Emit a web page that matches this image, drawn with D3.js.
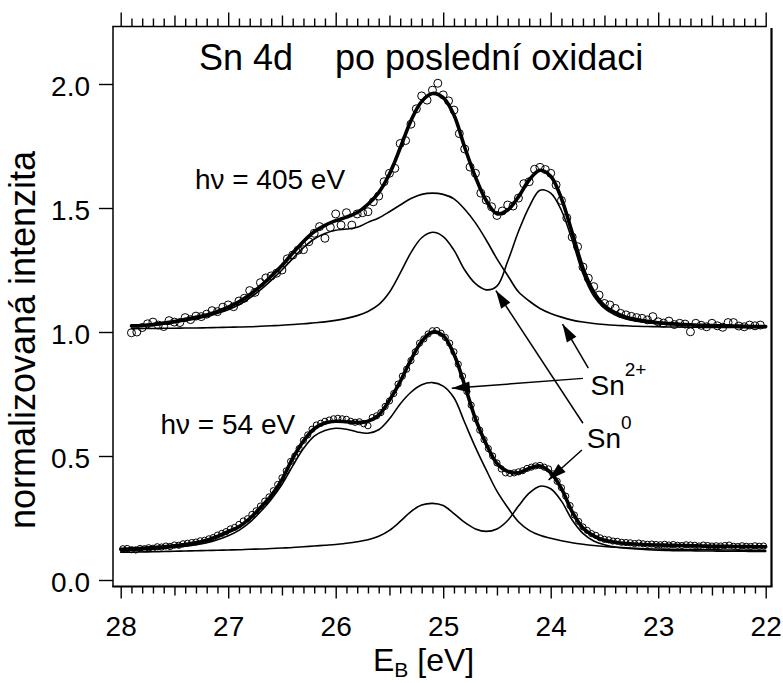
<!DOCTYPE html>
<html>
<head>
<meta charset="utf-8">
<script src="https://cdn.jsdelivr.net/npm/d3@7"></script>
<style>
  body { margin: 0; background: #fff; }
  svg { display: block; font-family: "Liberation Sans", Arial, sans-serif; }
</style>
</head>
<body>
<svg id="chart" width="783" height="683"></svg>
<script>
// Sn 4d photoemission after the last oxidation, two photon energies.
// Binding energy grid (eV) shared by the fitted curves.
const fitEnergy = [
  28.0, 27.9, 27.8, 27.7, 27.6, 27.5, 27.4, 27.3, 27.2, 27.1,
  27.0, 26.9, 26.8, 26.7, 26.6, 26.5, 26.4, 26.3, 26.2, 26.1,
  26.0, 25.9, 25.8, 25.7, 25.6, 25.5, 25.4, 25.3, 25.2, 25.1,
  25.0, 24.9, 24.8, 24.7, 24.6, 24.5, 24.4, 24.3, 24.2, 24.1,
  24.0, 23.9, 23.8, 23.7, 23.6, 23.5, 23.4, 23.3, 23.2, 23.1,
  23.0, 22.9, 22.8, 22.7, 22.6, 22.5, 22.4, 22.3, 22.2, 22.1, 22.0
];

// hv = 405 eV: total fit, Sn2+ and Sn0 components (offset spectrum)
const upperFit = [
  null,
  1.025, 1.026, 1.030, 1.036, 1.042, 1.051, 1.059, 1.069, 1.083, 1.100,
  1.122, 1.150, 1.185, 1.225, 1.268, 1.318, 1.365, 1.404, 1.430, 1.449,
  1.463, 1.482, 1.515, 1.562, 1.637, 1.742, 1.852, 1.930, 1.962, 1.945,
  1.875, 1.745, 1.625, 1.530, 1.477, 1.492, 1.545, 1.613, 1.652, 1.628,
  1.538, 1.400, 1.258, 1.162, 1.106, 1.078, 1.060, 1.050, 1.043, 1.037,
  1.034, 1.031, 1.029, 1.027, 1.026, 1.025, 1.024, 1.023, 1.022, 1.022
];
const upperSn2 = [
  null,
  1.020, 1.022, 1.026, 1.031, 1.037, 1.045, 1.053, 1.062, 1.075, 1.090,
  1.110, 1.137, 1.170, 1.208, 1.250, 1.296, 1.340, 1.375, 1.397, 1.410,
  1.415, 1.422, 1.442, 1.460, 1.485, 1.512, 1.538, 1.555, 1.560, 1.555,
  1.537, 1.495, 1.440, 1.371, 1.295, 1.228, 1.162, 1.125, 1.095, 1.075,
  1.060, 1.048, 1.040, 1.034, 1.030, 1.027, 1.025, 1.023, 1.022, 1.021,
  1.020, 1.020, 1.019, 1.019, 1.018, 1.018, 1.018, 1.017, 1.017, 1.017
];
const upperSn0 = [
  null,
  1.013, 1.014, 1.014, 1.015, 1.015, 1.016, 1.016, 1.017, 1.018, 1.019,
  1.020, 1.021, 1.023, 1.025, 1.027, 1.030, 1.033, 1.037, 1.041, 1.047,
  1.055, 1.066, 1.083, 1.110, 1.160, 1.237, 1.320, 1.380, 1.402, 1.385,
  1.330, 1.250, 1.195, 1.170, 1.185, 1.285, 1.405, 1.505, 1.572, 1.560,
  1.490, 1.370, 1.235, 1.145, 1.095, 1.068, 1.052, 1.043, 1.037, 1.033,
  1.030, 1.028, 1.026, 1.025, 1.024, 1.023, 1.022, 1.021, 1.021, 1.020
];

// hv = 54 eV: total fit, Sn2+ and Sn0 components
const lowerFit = [
  0.124, 0.126, 0.128, 0.131, 0.134, 0.138, 0.143, 0.150, 0.160, 0.176,
  0.195, 0.215, 0.248, 0.292, 0.340, 0.405, 0.490, 0.560, 0.610, 0.633,
  0.640, 0.638, 0.635, 0.640, 0.665, 0.725, 0.800, 0.888, 0.962, 1.000,
  0.985, 0.910, 0.785, 0.650, 0.548, 0.470, 0.438, 0.432, 0.450, 0.460,
  0.433, 0.368, 0.275, 0.210, 0.178, 0.160, 0.152, 0.147, 0.144, 0.142,
  0.141, 0.140, 0.139, 0.138, 0.137, 0.136, 0.136, 0.135, 0.135, 0.134, 0.134
];
const lowerSn2 = [
  0.117, 0.119, 0.121, 0.124, 0.127, 0.131, 0.136, 0.142, 0.150, 0.162,
  0.178, 0.200, 0.232, 0.275, 0.325, 0.385, 0.460, 0.530, 0.580, 0.603,
  0.612, 0.608, 0.597, 0.592, 0.606, 0.650, 0.710, 0.757, 0.787, 0.796,
  0.782, 0.735, 0.635, 0.535, 0.444, 0.358, 0.292, 0.235, 0.200, 0.180,
  0.168, 0.158, 0.150, 0.144, 0.139, 0.135, 0.132, 0.130, 0.128, 0.126,
  0.125, 0.124, 0.123, 0.123, 0.122, 0.122, 0.121, 0.121, 0.120, 0.120, 0.120
];
const lowerSn0 = [
  0.112, 0.112, 0.113, 0.114, 0.115, 0.116, 0.117, 0.118, 0.119, 0.120,
  0.121, 0.122, 0.124, 0.125, 0.127, 0.129, 0.131, 0.134, 0.137, 0.140,
  0.143, 0.148, 0.154, 0.162, 0.176, 0.200, 0.236, 0.276, 0.302, 0.309,
  0.300, 0.268, 0.232, 0.206, 0.196, 0.206, 0.240, 0.298, 0.350, 0.378,
  0.368, 0.318, 0.242, 0.188, 0.157, 0.142, 0.133, 0.128, 0.125, 0.122,
  0.120, 0.119, 0.118, 0.118, 0.117, 0.117, 0.116, 0.116, 0.116, 0.115, 0.115
];

// Measured points [binding energy, normalised intensity]
const upperPoints = [
  [27.90,0.997],[27.85,1.000],[27.80,1.018],[27.75,1.033],[27.70,1.040],[27.65,1.028],[27.60,1.022],[27.55,1.046],[27.50,1.040],[27.45,1.038],
  [27.40,1.058],[27.35,1.050],[27.30,1.064],[27.25,1.062],[27.20,1.072],[27.15,1.086],[27.10,1.082],[27.05,1.100],[27.00,1.109],[26.95,1.102],
  [26.90,1.125],[26.85,1.136],[26.80,1.167],[26.75,1.160],[26.70,1.199],[26.65,1.218],[26.60,1.226],[26.55,1.237],[26.50,1.250],[26.45,1.295],
  [26.40,1.310],[26.35,1.330],[26.30,1.332],[26.25,1.364],[26.20,1.398],[26.15,1.425],[26.10,1.378],[26.05,1.422],[26.00,1.476],[25.95,1.431],
  [25.90,1.481],[25.85,1.431],[25.80,1.476],[25.75,1.481],[25.70,1.485],[25.65,1.525],[25.60,1.548],[25.55,1.606],[25.50,1.640],[25.45,1.660],
  [25.40,1.760],[25.35,1.772],[25.30,1.838],[25.25,1.900],[25.20,1.952],[25.15,1.935],[25.10,1.975],[25.05,2.003],[25.00,1.956],[24.95,1.932],
  [24.90,1.895],[24.85,1.800],[24.80,1.738],[24.75,1.665],[24.70,1.640],[24.65,1.560],[24.60,1.532],[24.55,1.505],[24.50,1.470],[24.45,1.488],
  [24.40,1.512],[24.35,1.508],[24.30,1.540],[24.25,1.598],[24.20,1.606],[24.15,1.656],[24.10,1.664],[24.05,1.655],[24.00,1.640],[23.95,1.593],
  [23.90,1.530],[23.85,1.460],[23.80,1.383],[23.75,1.344],[23.70,1.262],[23.65,1.217],[23.60,1.183],[23.55,1.149],[23.50,1.115],[23.45,1.109],
  [23.40,1.095],[23.35,1.075],[23.30,1.069],[23.25,1.063],[23.20,1.058],[23.15,1.055],[23.10,1.049],[23.05,1.062],[23.00,1.041],[22.95,1.036],
  [22.90,1.044],[22.85,1.030],[22.80,1.035],[22.75,1.032],[22.70,1.001],[22.65,1.035],[22.60,1.027],[22.55,1.021],[22.50,1.035],[22.45,1.025],
  [22.40,1.019],[22.35,1.038],[22.30,1.038],[22.25,1.024],[22.20,1.021],[22.15,1.028],[22.10,1.025],[22.05,1.028]
];
const lowerPoints = [
  [27.98,0.126],[27.94,0.127],[27.90,0.122],[27.86,0.121],[27.82,0.127],[27.78,0.126],[27.74,0.130],[27.70,0.128],[27.66,0.134],[27.62,0.133],
  [27.58,0.137],[27.54,0.135],[27.50,0.141],[27.46,0.140],[27.42,0.146],[27.38,0.148],[27.34,0.151],[27.30,0.153],[27.26,0.158],[27.22,0.160],
  [27.18,0.166],[27.14,0.171],[27.10,0.181],[27.06,0.188],[27.02,0.195],[26.98,0.206],[26.94,0.212],[26.90,0.224],[26.86,0.238],[26.82,0.247],
  [26.78,0.264],[26.74,0.279],[26.70,0.298],[26.66,0.318],[26.62,0.335],[26.58,0.360],[26.54,0.385],[26.50,0.412],[26.46,0.440],[26.42,0.478],
  [26.38,0.500],[26.34,0.530],[26.30,0.563],[26.26,0.585],[26.22,0.608],[26.18,0.625],[26.14,0.632],[26.10,0.640],[26.06,0.645],[26.02,0.650],
  [25.98,0.652],[25.94,0.650],[25.90,0.648],[25.86,0.640],[25.82,0.636],[25.78,0.638],[25.74,0.630],[25.70,0.622],[25.66,0.655],[25.62,0.662],
  [25.58,0.675],[25.54,0.700],[25.50,0.722],[25.46,0.752],[25.42,0.790],[25.38,0.822],[25.34,0.850],[25.30,0.885],[25.26,0.920],[25.22,0.955],
  [25.18,0.972],[25.14,0.992],[25.10,1.005],[25.06,1.006],[25.02,0.995],[24.98,0.978],[24.94,0.955],[24.90,0.920],[24.86,0.870],[24.82,0.822],
  [24.78,0.760],[24.74,0.705],[24.70,0.650],[24.66,0.604],[24.62,0.566],[24.58,0.530],[24.54,0.500],[24.50,0.472],[24.46,0.448],[24.42,0.432],
  [24.38,0.430],[24.34,0.432],[24.30,0.436],[24.26,0.441],[24.22,0.450],[24.18,0.455],[24.14,0.460],[24.10,0.462],[24.06,0.455],[24.02,0.448],
  [23.98,0.428],[23.94,0.398],[23.90,0.372],[23.86,0.338],[23.82,0.300],[23.78,0.262],[23.74,0.236],[23.70,0.214],[23.66,0.200],[23.62,0.187],
  [23.58,0.180],[23.54,0.170],[23.50,0.164],[23.46,0.162],[23.42,0.157],[23.38,0.156],[23.34,0.152],[23.30,0.151],[23.26,0.150],[23.22,0.147],
  [23.18,0.149],[23.14,0.146],[23.10,0.144],[23.06,0.145],[23.02,0.143],[22.98,0.142],[22.94,0.144],[22.90,0.141],[22.86,0.143],[22.82,0.140],
  [22.78,0.139],[22.74,0.142],[22.70,0.141],[22.66,0.140],[22.62,0.137],[22.58,0.141],[22.54,0.139],[22.50,0.137],[22.46,0.138],[22.42,0.137],
  [22.38,0.139],[22.34,0.141],[22.30,0.136],[22.26,0.135],[22.22,0.138],[22.18,0.136],[22.14,0.135],[22.10,0.138],[22.06,0.136],[22.02,0.137]
];

// Axis ticks
const xMajorTicks = [28, 27, 26, 25, 24, 23, 22];
const xTickLabels = ["28", "27", "26", "25", "24", "23", "22"];
const yMajorTicks = [0, 0.5, 1.0, 1.5, 2.0];
const yTickLabels = ["0.0", "0.5", "1.0", "1.5", "2.0"];

// Annotation arrows: [tail E, tail I, tip E, tip I]
const arrows = [
  [23.65, 0.854, 23.89, 1.032],
  [23.70, 0.813, 24.92, 0.773],
  [23.70, 0.632, 24.51, 1.167],
  [23.71, 0.524, 24.02, 0.403]
];

const svg = d3.select("#chart");
const FONT = '"Liberation Sans", Arial, sans-serif';

const x = d3.scaleLinear().domain([28, 22]).range([120.7, 765.7]);
const y = d3.scaleLinear().domain([0, 2]).range([580, 84]);

const frame = { left: 113, right: 771.5, top: 26.5, bottom: 586.5 };

// minor (0.1 eV) and half-eV ticks
const allTenths = d3.range(0, 61).map(i => +(22 + i * 0.1).toFixed(1));
const halfTicks = allTenths.filter(v => Math.abs(v * 2 - Math.round(v * 2)) < 1e-6 && Math.abs(v - Math.round(v)) > 1e-6);
const minorTicks = allTenths.filter(v => Math.abs(v * 2 - Math.round(v * 2)) > 1e-6);

function tickAxis(axisFn, values, size) {
  return axisFn(x).tickValues(values).tickSize(size).tickSizeOuter(0).tickFormat("");
}

// bottom axis
const gb = svg.append("g").attr("transform", `translate(0,${frame.bottom})`);
gb.append("g").call(tickAxis(d3.axisBottom, minorTicks, 7));
gb.append("g").call(tickAxis(d3.axisBottom, halfTicks, 9));
const gbMajor = gb.append("g").call(
  d3.axisBottom(x).tickValues(xMajorTicks).tickSize(12).tickSizeOuter(0)
    .tickPadding(18).tickFormat((d, i) => xTickLabels[i])
);
gbMajor.attr("font-size", 28).attr("font-family", FONT);
gbMajor.selectAll("text").attr("fill", "#000");

// top mirror axis (ticks only)
const gt = svg.append("g").attr("transform", `translate(0,${frame.top})`);
gt.append("g").call(tickAxis(d3.axisTop, minorTicks, 8));
gt.append("g").call(tickAxis(d3.axisTop, halfTicks, 11));
gt.append("g").call(tickAxis(d3.axisTop, xMajorTicks, 14));

// left axis
const gl = svg.append("g").attr("transform", `translate(${frame.left},0)`).call(
  d3.axisLeft(y).tickValues(yMajorTicks).tickSize(14).tickSizeOuter(0)
    .tickPadding(9).tickFormat((d, i) => yTickLabels[i])
);
gl.attr("font-size", 28).attr("font-family", FONT);
gl.selectAll("text").attr("dy", "0.4em").attr("fill", "#000");

svg.selectAll(".domain").remove();
svg.selectAll(".tick line").attr("stroke", "#000").attr("stroke-width", 1.4);

// frame
svg.append("line").attr("x1", frame.left).attr("x2", frame.left)
  .attr("y1", frame.top).attr("y2", frame.bottom)
  .attr("stroke", "#000").attr("stroke-width", 1.5);
svg.append("line").attr("x1", frame.left - 0.75).attr("x2", frame.right + 1)
  .attr("y1", frame.bottom).attr("y2", frame.bottom)
  .attr("stroke", "#000").attr("stroke-width", 1.8);
svg.append("line").attr("x1", frame.left - 0.75).attr("x2", x(22) + 1)
  .attr("y1", frame.top).attr("y2", frame.top)
  .attr("stroke", "#000").attr("stroke-width", 1.5);
svg.append("line").attr("x1", frame.right).attr("x2", frame.right)
  .attr("y1", frame.top + 1.5).attr("y2", frame.bottom)
  .attr("stroke", "#000").attr("stroke-width", 2.2);

// measured points (open circles)
svg.append("g").selectAll("circle").data(upperPoints).join("circle")
  .attr("cx", d => x(d[0])).attr("cy", d => y(d[1])).attr("r", 4)
  .attr("fill", "none").attr("stroke", "#000").attr("stroke-width", 1);
svg.append("g").selectAll("circle").data(lowerPoints).join("circle")
  .attr("cx", d => x(d[0])).attr("cy", d => y(d[1])).attr("r", 3.1)
  .attr("fill", "none").attr("stroke", "#000").attr("stroke-width", 1);

// curves
const line = d3.line()
  .defined(d => d[1] != null)
  .x(d => x(d[0])).y(d => y(d[1]))
  .curve(d3.curveCatmullRom.alpha(0.5));

function series(vals) { return fitEnergy.map((e, i) => [e, vals[i]]); }

const curves = svg.append("g").attr("fill", "none").attr("stroke", "#000")
  .attr("stroke-linejoin", "round").attr("stroke-linecap", "round");
[upperSn2, upperSn0, lowerSn2, lowerSn0].forEach(v => {
  curves.append("path").attr("d", line(series(v))).attr("stroke-width", 1.6);
});
[upperFit, lowerFit].forEach(v => {
  curves.append("path").attr("d", line(series(v))).attr("stroke-width", 3.6);
});

// arrows
const defs = svg.append("defs");
defs.append("marker").attr("id", "head")
  .attr("markerUnits", "userSpaceOnUse")
  .attr("viewBox", "-20 -8 22 16")
  .attr("refX", 0).attr("refY", 0)
  .attr("markerWidth", 22).attr("markerHeight", 16)
  .attr("orient", "auto")
  .append("path").attr("d", "M0,0 L-18,-5.5 L-18,5.5 Z").attr("fill", "#000");

svg.append("g").selectAll("line").data(arrows).join("line")
  .attr("x1", d => x(d[0])).attr("y1", d => y(d[1]))
  .attr("x2", d => x(d[2])).attr("y2", d => y(d[3]))
  .attr("stroke", "#000").attr("stroke-width", 1.5)
  .attr("marker-end", "url(#head)");

// texts
const txt = svg.append("g").attr("font-family", FONT).attr("fill", "#000");

txt.append("text").attr("x", 199).attr("y", 70).attr("font-size", 36).text("Sn 4d");
txt.append("text").attr("x", 335).attr("y", 70).attr("font-size", 36).text("po poslední oxidaci");

txt.append("text").attr("x", x(27.31)).attr("y", y(1.577)).attr("font-size", 28).text("hν = 405 eV");
txt.append("text").attr("x", x(27.63)).attr("y", y(0.589)).attr("font-size", 28).text("hν = 54 eV");

const sn2 = txt.append("text").attr("x", x(23.63)).attr("y", y(0.746)).attr("font-size", 28);
sn2.append("tspan").text("Sn");
sn2.append("tspan").attr("font-size", 19).attr("dy", -19).text("2+");
const sn0 = txt.append("text").attr("x", x(23.665)).attr("y", y(0.531)).attr("font-size", 28);
sn0.append("tspan").text("Sn");
sn0.append("tspan").attr("font-size", 19).attr("dy", -19).text("0");

// axis titles
const xl = txt.append("text").attr("x", 373).attr("y", 671).attr("font-size", 32);
xl.append("tspan").text("E");
xl.append("tspan").attr("font-size", 21).attr("dy", 6).text("B");
xl.append("tspan").attr("dy", -6).text(" [eV]");

txt.append("text")
  .attr("transform", "translate(35,340) rotate(-90)")
  .attr("text-anchor", "middle").attr("font-size", 36)
  .text("normalizovaná intenzita");
</script>
</body>
</html>
